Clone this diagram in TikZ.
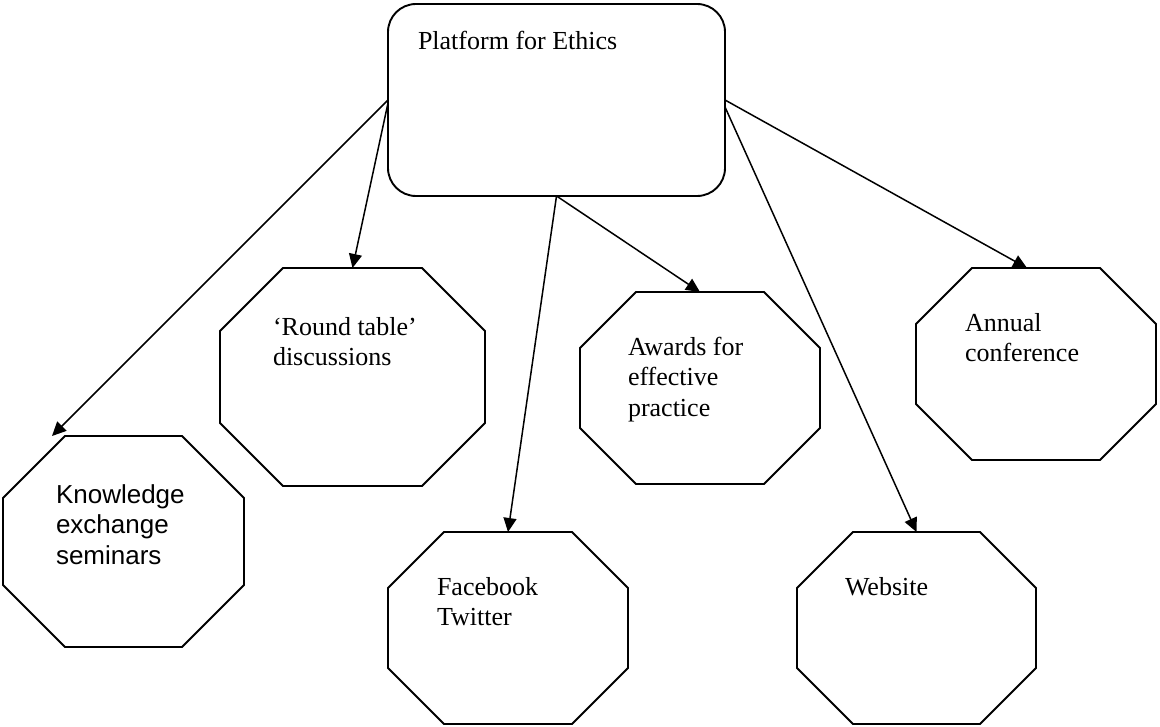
\documentclass[tikz,border=0pt]{standalone}
\usepackage{fontspec}
\setmainfont{Liberation Serif}
\newfontfamily\arialfont{Liberation Sans}
\usetikzlibrary{arrows.meta}
\newcommand{\octo}[2]{%
  \draw[shapeline] ([xshift=#2]#1.north west) -- ([xshift=-#2]#1.north east) -- ([yshift=-#2]#1.north east) -- ([yshift=#2]#1.south east) -- ([xshift=-#2]#1.south east) -- ([xshift=#2]#1.south west) -- ([yshift=#2]#1.south west) -- ([yshift=-#2]#1.north west) -- cycle;}
\tikzset{
  shapeline/.style={line width=0.95pt, line join=miter},
  octbox/.style={draw=none, inner sep=0pt, outer sep=0pt, rectangle},
  label text/.style={inner sep=0pt, outer sep=0pt, anchor=base west, align=left, font=\fontsize{13pt}{15.25pt}\selectfont},
  arr/.style={line width=0.75pt, -{Triangle[length=7pt,width=6.5pt]}}
}
\begin{document}
\begin{tikzpicture}[x=0.5pt,y=-0.5pt]
\useasboundingbox (0,0) rectangle (1160,727);
\fill[white] (0,0) rectangle (1160,727);
% top box
\node[draw, shapeline, rounded corners=14pt, minimum width=168.5pt, minimum height=96pt, inner sep=0pt, outer sep=0pt] (box) at (556.5,100) {};
\node[label text] (boxt) at (418,50) {Platform for Ethics};
% octagons (text nodes are anchored at the baseline of their last line)
\node[octbox, minimum width=120.5pt, minimum height=105.5pt] (ke) at (123.5,541.5) {};
\octo{ke}{31pt}
\node[label text, font=\arialfont\fontsize{13pt}{15.25pt}\selectfont] (ket) at (56,564) {Knowledge\\exchange\\seminars};
\node[octbox, minimum width=132.5pt, minimum height=109pt] (rt) at (352.5,377) {};
\octo{rt}{31.5pt}
\node[label text] (rtt) at (273,365.5) {‘Round table’\\discussions};
\node[octbox, minimum width=120pt, minimum height=96pt] (fb) at (508,628) {};
\octo{fb}{28pt}
\node[label text] (fbt) at (437,625.5) {Facebook\\Twitter};
\node[octbox, minimum width=120pt, minimum height=96pt] (aw) at (700,388) {};
\octo{aw}{28pt}
\node[label text] (awt) at (628,416) {Awards for\\effective\\practice};
\node[octbox, minimum width=120pt, minimum height=96pt] (ac) at (1036,364) {};
\octo{ac}{28pt}
\node[label text] (act) at (965,361.5) {Annual\\conference};
\node[octbox, minimum width=119.5pt, minimum height=96pt] (ws) at (916.5,628) {};
\octo{ws}{28pt}
\node[label text] (wst) at (845,595) {Website};
% arrows
\draw[arr] (box.west) -- ([xshift=24.5pt]ke.north west);
\draw[arr] ([yshift=-1.5pt]box.west) -- (rt.north);
\draw[arr] (box.south) -- (fb.north);
\draw[arr] (box.south) -- (aw.north);
\draw[arr] (box.east) -- ([xshift=-4.5pt]ac.north);
\draw[arr] ([yshift=-3.5pt]box.east) -- (ws.north);
\end{tikzpicture}
\end{document}
